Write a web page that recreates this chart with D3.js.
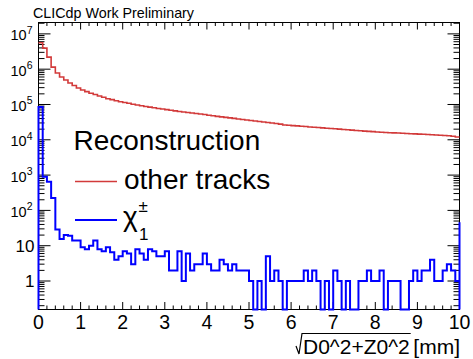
<!DOCTYPE html>
<html lang="en">
<head>
<meta charset="UTF-8">
<script src="https://d3js.org/d3.v7.min.js"></script>
<style>
  body { margin: 0; background: #fff; }
  svg { display: block; font-family: "Liberation Sans", Arial, Helvetica, sans-serif; }
</style>
<title>Track distance</title>
</head>
<body>
<div id="chart"></div>
<script>
const width = 473, height = 359;

// axis ranges
const xDomain = [0, 10];
const yDomain = [0.156, 2.1e7];
const binWidth = 0.1;

// "other tracks" histogram, 100 bins of 0.1 mm
const otherTracks = [
  5.6e6, 3.94e6, 2.19e6, 1.14e6, 7.8e5, 6.0e5, 4.94e5, 4.06e5, 3.45e5, 2.93e5,
  2.58e5, 2.31e5, 2.08e5, 1.92e5, 1.74e5, 1.60e5, 1.46e5, 1.37e5, 1.28e5, 1.20e5,
  1.14e5, 1.08e5, 1.02e5, 9.7e4, 9.2e4, 8.8e4, 8.4e4, 8.07e4, 7.7e4, 7.46e4,
  7.13e4, 6.85e4, 6.6e4, 6.34e4, 6.13e4, 5.93e4, 5.74e4, 5.56e4, 5.38e4, 5.18e4,
  4.98e4, 4.79e4, 4.6e4, 4.46e4, 4.31e4, 4.17e4, 4.04e4, 3.88e4, 3.76e4, 3.64e4,
  3.52e4, 3.41e4, 3.30e4, 3.19e4, 3.09e4, 2.99e4, 2.90e4, 2.77e4, 2.63e4, 2.58e4,
  2.52e4, 2.48e4, 2.41e4, 2.37e4, 2.31e4, 2.26e4, 2.22e4, 2.17e4, 2.13e4, 2.09e4,
  2.05e4, 2.0e4, 1.96e4, 1.92e4, 1.88e4, 1.83e4, 1.80e4, 1.76e4, 1.73e4, 1.70e4,
  1.66e4, 1.63e4, 1.61e4, 1.59e4, 1.57e4, 1.55e4, 1.53e4, 1.51e4, 1.49e4, 1.47e4,
  1.45e4, 1.43e4, 1.41e4, 1.39e4, 1.37e4, 1.34e4, 1.32e4, 1.30e4, 1.26e4, 1.20e4
];

// chargino histogram, same binning
const chargino = [
  85000, 900, 650, 225, 29, 15.5, 20, 19, 14, 14,
  9, 8, 10, 14, 8, 7, 9, 6.5, 4, 5,
  7, 6, 3, 8, 6, 4, 8, 7, 5, 5,
  7, 2, 2, 7, 1, 6, 2, 3, 3, 6,
  3, 2, 2, 4, 3, 2, 3, 2, 2, 2,
  1, 0, 1, 0, 5, 1, 2, 1, 0, 1,
  1, 1, 1, 2, 1, 2, 1, 0, 1, 0,
  2, 1, 0, 1, 0, 0, 1, 1, 2, 1,
  1, 2, 0, 1, 1, 1, 0, 0, 1, 2,
  1, 2, 2, 4, 1, 1, 2, 3, 2, 1
];
const charginoOverflow = 46;

const xTicks = [0, 1, 2, 3, 4, 5, 6, 7, 8, 9, 10];
const yDecades = [1, 10, 1e2, 1e3, 1e4, 1e5, 1e6, 1e7];

const svg = d3.select("#chart").append("svg")
    .attr("width", width)
    .attr("height", height);

const x = d3.scaleLinear().domain(xDomain).range([38.5, 459.5]);
const y = d3.scaleLog().domain(yDomain).range([309.5, 22.5]);
const yv = v => y(Math.max(v, yDomain[0]));

// frame
svg.append("rect")
    .attr("x", x(0)).attr("y", y(yDomain[1]))
    .attr("width", x(10) - x(0)).attr("height", y(yDomain[0]) - y(yDomain[1]))
    .attr("fill", "none").attr("stroke", "#000").attr("stroke-width", 1);

// x ticks, bottom and top
const xMinor = d3.range(0, 10.001, 0.2).filter(v => Math.abs(v - Math.round(v)) > 1e-6);
const ticks = svg.append("g").attr("stroke", "#000").attr("stroke-width", 1);
const yBot = y(yDomain[0]), yTop = y(yDomain[1]);
xTicks.forEach(t => {
  ticks.append("line").attr("x1", x(t)).attr("x2", x(t)).attr("y1", yBot).attr("y2", yBot - 7.5);
  ticks.append("line").attr("x1", x(t)).attr("x2", x(t)).attr("y1", yTop).attr("y2", yTop + 7);
});
xMinor.forEach(t => {
  ticks.append("line").attr("x1", x(t)).attr("x2", x(t)).attr("y1", yBot).attr("y2", yBot - 4);
  ticks.append("line").attr("x1", x(t)).attr("x2", x(t)).attr("y1", yTop).attr("y2", yTop + 3.5);
});

// y ticks, left and right
const yMinor = [];
[0.1, 1, 10, 1e2, 1e3, 1e4, 1e5, 1e6, 1e7].forEach(d => {
  for (let m = 2; m <= 9; m++) {
    const v = d * m;
    if (v > yDomain[0] && v < yDomain[1]) yMinor.push(v);
  }
});
const xL = x(0), xR = x(10);
yDecades.forEach(v => {
  ticks.append("line").attr("x1", xL).attr("x2", xL + 12).attr("y1", y(v)).attr("y2", y(v));
  ticks.append("line").attr("x1", xR).attr("x2", xR - 12).attr("y1", y(v)).attr("y2", y(v));
});
yMinor.forEach(v => {
  ticks.append("line").attr("x1", xL).attr("x2", xL + 6).attr("y1", y(v)).attr("y2", y(v));
  ticks.append("line").attr("x1", xR).attr("x2", xR - 6).attr("y1", y(v)).attr("y2", y(v));
});

// x tick labels
svg.append("g").selectAll("text")
  .data(xTicks)
  .enter().append("text")
    .attr("x", d => x(d))
    .attr("y", 328.5)
    .attr("text-anchor", "middle")
    .style("font-size", "19.5px")
    .text(d => d);

// y tick labels
yDecades.forEach(v => {
  const exp = Math.round(Math.log10(v));
  if (exp < 2) {
    svg.append("text")
        .attr("x", 34.5).attr("y", y(v) + 6)
        .attr("text-anchor", "end")
        .style("font-size", "17px")
        .text(v);
  } else {
    const t = svg.append("text")
        .attr("x", 32.5).attr("y", y(v) + 6.5)
        .attr("text-anchor", "end")
        .style("font-size", "14.5px");
    t.append("tspan").text("10");
    t.append("tspan").attr("dy", -6.5).style("font-size", "10.5px").text(exp);
  }
});

// histograms
function stepPoints(values) {
  const pts = [];
  values.forEach((v, i) => pts.push([i * binWidth, v], [(i + 1) * binWidth, v]));
  return pts;
}
const line = d3.line().x(d => x(d[0])).y(d => yv(d[1]));

svg.append("path")
    .attr("d", line(stepPoints(otherTracks)))
    .attr("fill", "none")
    .attr("stroke", "#d23a3a")
    .attr("stroke-width", 1.6);

const bluePts = [[0, 0], ...stepPoints(chargino), [10, 0], [10, charginoOverflow]];
svg.append("path")
    .attr("d", line(bluePts))
    .attr("fill", "none")
    .attr("stroke", "#0000ff")
    .attr("stroke-width", 2);

// title
svg.append("text")
    .attr("x", 33).attr("y", 17.5)
    .style("font-size", "14.3px")
    .text("CLICdp Work Preliminary");

// legend
svg.append("text")
    .attr("x", 73.5).attr("y", 150)
    .style("font-size", "28px")
    .text("Reconstruction");

svg.append("line")
    .attr("x1", 75).attr("x2", 117).attr("y1", 181.5).attr("y2", 181.5)
    .attr("stroke", "#d23a3a").attr("stroke-width", 1.6);
svg.append("text")
    .attr("x", 124).attr("y", 189)
    .style("font-size", "28px")
    .text("other tracks");

svg.append("line")
    .attr("x1", 75).attr("x2", 117).attr("y1", 220).attr("y2", 220)
    .attr("stroke", "#0000ff").attr("stroke-width", 2);
svg.append("text")
    .attr("x", 123).attr("y", 226)
    .style("font-size", "28px")
    .text("χ");
svg.append("text")
    .attr("x", 138.5).attr("y", 212)
    .style("font-size", "17px")
    .text("±");
svg.append("text")
    .attr("x", 139).attr("y", 240)
    .style("font-size", "17px")
    .text("1");

// x axis title with square root
const radicand = svg.append("text")
    .attr("x", 303).attr("y", 353.5)
    .style("font-size", "21px")
    .text("D0^2+Z0^2");
const rw = radicand.node().getComputedTextLength();
svg.append("text")
    .attr("x", 460).attr("y", 353.5)
    .attr("text-anchor", "end")
    .style("font-size", "21px")
    .text("[mm]");
svg.append("path")
    .attr("d", `M296,346 L299,354 L302,333.5 L${303 + rw + 1},333.5`)
    .attr("fill", "none")
    .attr("stroke", "#000")
    .attr("stroke-width", 1.2);
</script>
</body>
</html>
